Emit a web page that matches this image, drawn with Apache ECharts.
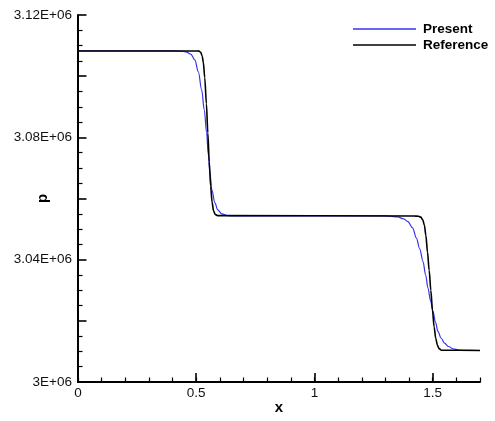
<!DOCTYPE html>
<html>
<head>
<meta charset="utf-8">
<script src="https://cdn.jsdelivr.net/npm/echarts@6/dist/echarts.min.js"></script>
<style>
  html, body { margin: 0; padding: 0; background: #fff; }
  #chart { width: 495px; height: 421px; }
</style>
</head>
<body>
<div id="chart"></div>
<script>
// ---- data ----
const xPresent = [0, 0.410, 0.440, 0.460, 0.477, 0.494, 0.509, 0.523, 0.534, 0.544, 0.551, 0.558, 0.566, 0.579, 0.591, 0.608, 0.634, 0.660,
  1.300, 1.318, 1.352, 1.377, 1.395, 1.415, 1.431, 1.445, 1.459, 1.470, 1.480, 1.491, 1.501, 1.512, 1.522, 1.536, 1.550, 1.567, 1.586, 1.610, 1.635, 1.700];
const pPresent = [3108240, 3108240, 3108150, 3107850, 3107200, 3105300, 3101400, 3095500, 3089000, 3081500, 3074300, 3068400, 3062800, 3058600, 3056300, 3055000, 3054400, 3054300,
  3054300, 3054200, 3054000, 3053350, 3052470, 3050410, 3047040, 3043550, 3039400, 3035060, 3030710, 3026560, 3023070, 3019540, 3016530, 3014310, 3012740, 3011600, 3010880, 3010450, 3010320, 3010300];

const xReference = [0, 0.500, 0.512, 0.519, 0.525, 0.530, 0.536, 0.543, 0.549, 0.555, 0.561, 0.567, 0.573, 0.580, 0.590,
  1.420, 1.440, 1.450, 1.458, 1.465, 1.471, 1.478, 1.485, 1.492, 1.499, 1.506, 1.513, 1.520, 1.527, 1.537, 1.700];
const pReference = [3108240, 3108240, 3108180, 3107800, 3106600, 3104500, 3099500, 3091000, 3081500, 3072000, 3064000, 3058800, 3056000, 3054800, 3054400,
  3054300, 3054200, 3053900, 3053000, 3051200, 3048000, 3042500, 3036500, 3030000, 3023500, 3018000, 3014200, 3012000, 3010900, 3010400, 3010300];

const seriesNames = ['Present', 'Reference'];
const xTickValues = [0, 0.5, 1, 1.5];
const xTickLabels = ['0', '0.5', '1', '1.5'];
const yTickValues = [3000000, 3040000, 3080000, 3120000];
const yTickLabels = ['3E+06', '3.04E+06', '3.08E+06', '3.12E+06'];

function pairs(xs, ys) { return xs.map((x, i) => [x, ys[i]]); }
function lookup(vals, labels, v) {
  for (let i = 0; i < vals.length; i++) if (Math.abs(vals[i] - v) < 1e-6 * Math.max(1, Math.abs(v))) return labels[i];
  return '';
}

const FONT = '"Liberation Sans", Arial, Helvetica, sans-serif';
const chart = echarts.init(document.getElementById('chart'), null, { renderer: 'canvas' });

chart.setOption({
  animation: false,
  backgroundColor: '#ffffff',
  grid: { left: 78, right: 15, top: 15, bottom: 39, containLabel: false, outerBoundsMode: 'none' },
  legend: {
    orient: 'vertical',
    left: 348,
    top: 16,
    icon: 'rect',
    itemWidth: 63,
    itemHeight: 1.5,
    itemGap: 0,
    data: seriesNames,
    textStyle: { fontFamily: FONT, fontWeight: 'bold', fontSize: 13.5, color: '#000', lineHeight: 16, padding: [0, 0, 0, 2] }
  },
  xAxis: [{
    type: 'value',
    min: 0, max: 1.7, interval: 0.1,
    position: 'bottom',
    name: 'x',
    nameLocation: 'middle',
    nameGap: 18,
    nameMoveOverlap: false,
    nameTextStyle: { fontFamily: FONT, fontWeight: 'bold', fontSize: 15, color: '#000' },
    axisLine: { lineStyle: { color: '#000', width: 2 } },
    axisTick: { inside: true, length: 4.5, lineStyle: { color: '#000', width: 1.2 } },
    axisLabel: {
      customValues: xTickValues,
      margin: 4,
      fontFamily: FONT, fontSize: 13.5, color: '#111',
      formatter: v => lookup(xTickValues, xTickLabels, v)
    },
    splitLine: { show: false }
  }, {
    type: 'value',
    min: 0, max: 1.7,
    position: 'bottom',
    axisLine: { show: false },
    axisTick: { inside: true, length: 9, customValues: xTickValues, lineStyle: { color: '#000', width: 1.6 } },
    axisLabel: { show: false },
    splitLine: { show: false }
  }],
  yAxis: [{
    type: 'value',
    min: 3000000, max: 3120000, interval: 20000,
    position: 'left',
    name: 'p',
    nameLocation: 'middle',
    nameGap: 28,
    nameMoveOverlap: false,
    nameRotate: 90,
    nameTextStyle: { fontFamily: FONT, fontWeight: 'bold', fontSize: 15, color: '#000' },
    axisLine: { lineStyle: { color: '#000', width: 2 } },
    axisTick: { inside: true, length: 8.5, lineStyle: { color: '#000', width: 1.6 } },
    minorTick: { show: true, splitNumber: 4, length: 4.5, lineStyle: { color: '#000', width: 1.2 } },
    axisLabel: {
      customValues: yTickValues,
      margin: 6,
      fontFamily: FONT, fontSize: 13.5, color: '#111',
      formatter: v => lookup(yTickValues, yTickLabels, v)
    },
    splitLine: { show: false },
    minorSplitLine: { show: false }
  }],
  series: [{
    name: seriesNames[0],
    type: 'line',
    xAxisIndex: 0,
    yAxisIndex: 0,
    data: pairs(xPresent, pPresent),
    showSymbol: false,
    symbol: 'none',
    smooth: 0.35,
    smoothMonotone: 'x',
    lineStyle: { color: '#3535f0', width: 1.2 },
    itemStyle: { color: '#3535f0' },
    z: 3
  }, {
    name: seriesNames[1],
    type: 'line',
    xAxisIndex: 0,
    yAxisIndex: 0,
    data: pairs(xReference, pReference),
    showSymbol: false,
    symbol: 'none',
    smooth: 0.3,
    smoothMonotone: 'x',
    lineStyle: { color: '#000000', width: 1.6 },
    itemStyle: { color: '#000000' },
    z: 4
  }]
});
</script>
</body>
</html>
